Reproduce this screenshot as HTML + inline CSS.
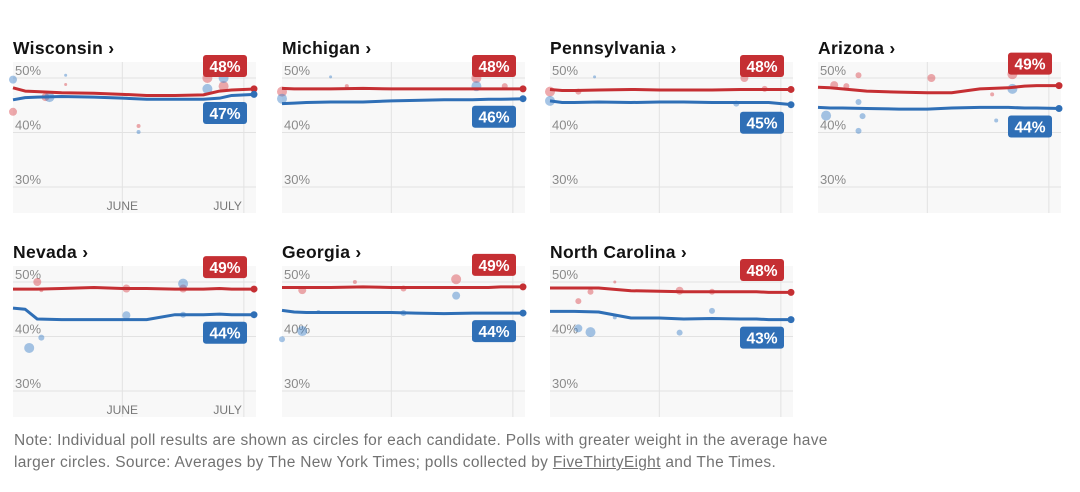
<!DOCTYPE html>
<html><head><meta charset="utf-8">
<style>
body{margin:0;background:#fff;width:1080px;height:492px;overflow:hidden;font-family:"Liberation Sans",sans-serif}
#note{position:absolute;left:14px;top:430px;width:850px;font-family:"Liberation Sans",sans-serif;font-size:15.5px;letter-spacing:0.3px;line-height:22px;color:#727272}
#note u{color:#727272}
</style></head><body>
<svg id="chart" width="1080" height="430" style="position:absolute;left:0;top:0"></svg>
<div id="note">Note: Individual poll results are shown as circles for each candidate. Polls with greater weight in the average have larger circles. Source: Averages by The New York Times; polls collected by <u>FiveThirtyEight</u> and The Times.</div>
<script>
// days since May 5; June 1 = 27, July 1 = 57
const states=["Wisconsin","Michigan","Pennsylvania","Arizona","Nevada","Georgia","North Carolina"];
const days=[0,3,6,12,20,27,33,40,47,51,54,60];
const redVals=[
 [48.2,47.6,47.5,47.3,47.2,47.0,46.8,46.8,46.9,47.6,47.8,48.0],
 [48.1,48.0,48.0,48.0,48.1,48.0,48.0,48.0,48.0,48.0,48.0,48.0],
 [47.9,47.7,47.7,47.8,47.9,47.8,47.8,47.8,47.9,47.9,47.9,47.9],
 [48.3,48.2,48.0,47.6,47.4,47.3,47.3,48.0,48.2,48.5,48.6,48.6],
 [48.7,48.7,48.7,48.8,49.0,48.8,48.8,48.7,48.7,48.8,48.7,48.7],
 [49.0,49.0,49.0,49.0,49.1,49.0,49.0,49.0,49.0,49.0,49.1,49.1],
 [48.9,48.9,48.9,48.9,48.4,48.3,48.2,48.2,48.2,48.2,48.1,48.1]];
const blueVals=[
 [46.0,46.4,46.5,46.6,46.5,46.3,46.1,46.1,46.1,46.3,46.8,47.0],
 [45.3,45.4,45.5,45.6,45.6,45.8,45.9,46.0,46.0,46.1,46.1,46.2],
 [45.8,45.5,45.5,45.6,45.5,45.6,45.6,45.5,45.5,45.5,45.5,45.1],
 [44.6,44.5,44.5,44.4,44.3,44.3,44.5,44.6,44.6,44.5,44.5,44.4],
 [45.2,45.0,43.2,43.1,43.1,43.1,43.1,44.0,44.0,44.1,44.0,44.0],
 [44.8,44.5,44.4,44.4,44.4,44.4,44.3,44.2,44.3,44.3,44.3,44.3],
 [44.6,44.6,44.6,44.5,43.4,43.4,43.2,43.3,43.2,43.2,43.1,43.1]];
const redLabels=["48%","48%","48%","49%","49%","49%","48%"];
const blueLabels=["47%","46%","45%","44%","44%","44%","43%"];
const yTicks=[50,40,30];
const tickLabels=["50%","40%","30%"];
const monthDays=[27,57];
const monthLabels=["JUNE","JULY"];
// polls: [day, value, radius]
const redPolls=[
 [[0,43.8,4],[8,46.5,4],[13,48.8,1.5],[31,41.2,2],[48,50,5],[52,48.5,5]],
 [[0,47.5,5],[16,48.5,2],[48,50,5],[55,48.5,3]],
 [[0,47.5,5],[7,47.5,3],[48,50,4],[53,48,3]],
 [[4,48.7,4],[7,48.5,3],[10,50.5,3],[28,50,4],[48,50.7,5],[43,47,2]],
 [[6,50,4],[7,48.5,2],[28,48.8,4],[42,48.8,4]],
 [[5,48.5,4],[18,50,2],[43,50.5,5],[30,48.8,3]],
 [[7,46.5,3],[10,48.2,3],[16,50,1.5],[32,48.4,4],[40,48.2,3]]];
const bluePolls=[
 [[0,49.7,4],[9,46.5,5],[13,50.5,1.5],[31,40.1,2],[48,48,5],[52,50,5]],
 [[0,46.2,5],[12,50.2,1.5],[48,48.5,5]],
 [[0,45.8,5],[11,50.2,1.5],[46,45.3,3]],
 [[2,43.1,5],[10,45.6,3],[11,43,3],[10,40.3,3],[48,48,5],[44,42.2,2]],
 [[4,37.9,5],[7,39.8,3],[28,43.9,4],[42,49.7,5],[42,44,3]],
 [[0,39.5,3],[5,41,5],[9,44.5,2],[30,44.3,3],[43,47.5,4]],
 [[7,41.5,4],[10,40.8,5],[16,43.5,2],[32,40.7,3],[40,44.7,3]]];

const svg=document.getElementById('chart');
const NS='http://www.w3.org/2000/svg';
function mk(tag,attrs,parent){const e=document.createElementNS(NS,tag);for(const k in attrs)e.setAttribute(k,attrs[k]);(parent||svg).appendChild(e);return e;}
const colX=[13,282,550,818], rowY=[0,204];
const W=243;
states.forEach((name,i)=>{
  const ox=colX[i%4], oy=rowY[Math.floor(i/4)];
  const g=mk('g',{});
  
  
  const x=d=>ox+d*(W/60);
  const y=v=>oy+78+(50-v)*5.45;
  const bg=mk('rect',{x:ox,y:oy+62,width:W,height:151,fill:'#f8f8f8'},g);
  
  
  yTicks.forEach((t,k)=>{
    const l=mk('line',{x1:ox,x2:ox+W,y1:y(t),y2:y(t),stroke:'#e2e2e2','stroke-width':1},g);
    
    
    const tx=mk('text',{x:ox+2,y:y(t)-3,'font-size':13,fill:'#8a8a8a'},g);
    tx.textContent=tickLabels[k];
    
    
  });
  monthDays.forEach((d,k)=>{
    const l=mk('line',{x1:x(d),x2:x(d),y1:oy+62,y2:oy+213,stroke:'#e2e2e2','stroke-width':1},g);
    
    
    if(i===0||i===4){
      const tx=mk('text',{x:x(d),y:oy+210,'font-size':12,fill:'#777','text-anchor':k===1?'end':'middle'},g);
      if(k===1)tx.setAttribute('x',x(d)-2);
      tx.textContent=monthLabels[k];
      
      
    }
  });
  redPolls[i].forEach(p=>{const c=mk('circle',{cx:x(p[0]),cy:y(p[1]),r:p[2],fill:'#d9434a','fill-opacity':0.45},g);
    
    });
  bluePolls[i].forEach(p=>{const c=mk('circle',{cx:x(p[0]),cy:y(p[1]),r:p[2],fill:'#3a7fc8','fill-opacity':0.45},g);
    
    });
  [[redVals[i],'#c52f33','red'],[blueVals[i],'#2f6fb6','blue']].forEach(([vals,col,nm])=>{
    const pts=days.map((d,k)=>x(d)+','+y(vals[k])).join(' ');
    const pl=mk('polyline',{points:pts,fill:'none',stroke:col,'stroke-width':3,'stroke-linejoin':'round'},g);
    
    
    const dot=mk('circle',{cx:x(60)-2,cy:y(vals[vals.length-1]),r:3.5,fill:col},g);
    
    
  });
  const title=mk('text',{x:ox,y:oy+54,'font-size':17.5,'font-weight':'bold',fill:'#121212','letter-spacing':0.3},g);
  title.textContent=name+' \u203A';
  
  
  const rv=redVals[i][redVals[i].length-1], bv=blueVals[i][blueVals[i].length-1];
  const ry=Math.min(y(rv)-33,oy+55), by=Math.max(y(bv)+7,oy+102);
  [[ry,'#c52f33',redLabels[i],'red'],[by,'#2f6fb6',blueLabels[i],'blue']].forEach(([yy,col,lab,nm])=>{
    const r=mk('rect',{x:ox+190,y:yy,width:44,height:22,rx:3,fill:col},g);
    
    
    const t=mk('text',{x:ox+212,y:yy+17,'font-size':15.5,'font-weight':'bold',fill:'#fff','text-anchor':'middle'},g);
    t.textContent=lab;
    
    
  });
});
</script>
</body></html>
